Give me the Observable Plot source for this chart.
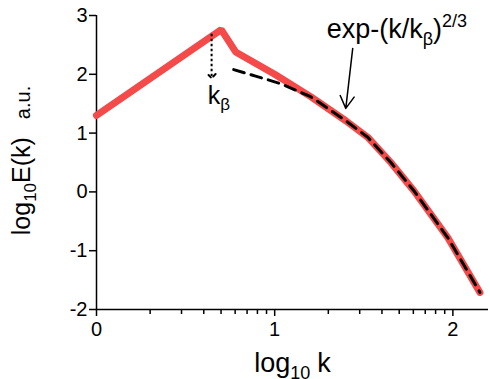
<!DOCTYPE html>
<html><head><meta charset="utf-8">
<script src="https://cdn.jsdelivr.net/npm/d3@7"></script>
<script src="https://cdn.jsdelivr.net/npm/@observablehq/plot@0.6"></script>
<style>
html,body{margin:0;padding:0;background:#fff;}
#chart svg{display:block;}
</style></head>
<body><div id="chart"></div>
<script>
// Measured spectrum (red) : log10 k vs log10 E(k)
const spectrumLogK = [0, 0.700, 0.781, 1.000, 1.202, 1.399, 1.522, 1.652, 1.781, 1.972, 2.152];
const spectrumLogE = [1.30, 2.76, 2.38, 2.00, 1.62, 1.21, 0.93, 0.50, 0.02, -0.78, -1.71];
// Stretched-exponential fit (black dashed)
const fitLogK = [0.770, 0.893, 1.034, 1.202, 1.399, 1.522, 1.652, 1.781, 1.972, 2.152];
const fitLogE = [2.08, 1.97, 1.84, 1.62, 1.21, 0.93, 0.50, 0.02, -0.78, -1.71];
// Axis ticks
const yTicks = [-2, -1, 0, 1, 2, 3];
const xMajorTicks = [0, 1, 2];
const xMinorTicks = [0, 1].flatMap(d => [2,3,4,5,6,7,8,9].map(m => d + Math.log10(m)));
// Annotations
const kbArrow = {x1: 0.646, y1: 2.69, x2: 0.646, y2: 1.97};
const fitArrow = {x1: 1.438, y1: 2.44, x2: 1.399, y2: 1.42};
const annotationText = ["kβ", "exp-(k/kβ)2/3"];
const annotationX = [0.624, 1.292];
const annotationY = [1.50, 2.61];
const xLabel = "log10 k";
const yLabel = "log10E(k)   a.u.";

const spectrum = spectrumLogK.map((k, i) => ({k, e: spectrumLogE[i]}));
const fit = fitLogK.map((k, i) => ({k, e: fitLogE[i]}));
const annotations = annotationText.map((t, i) => ({t, x: annotationX[i], y: annotationY[i]}));

const font = '"Liberation Sans", Arial, Helvetica, sans-serif';

const plot = Plot.plot({
  width: 490, height: 379,
  marginLeft: 96, marginRight: 2, marginTop: 15, marginBottom: 70,
  style: {fontFamily: font, background: "#fff", color: "#000"},
  x: {domain: [0, 2.2], axis: null},
  y: {domain: [-2, 3], axis: null},
  marks: [
    Plot.axisY({ticks: yTicks, tickSize: 7, tickPadding: 2, fontSize: 20, strokeWidth: 1.5, tickFormat: d => String(d), label: null}),
    Plot.axisX({ticks: xMajorTicks, tickSize: 7, tickPadding: 5, fontSize: 20, strokeWidth: 1.5, tickFormat: d => String(d), label: null}),
    Plot.axisX({ticks: xMinorTicks, tickSize: 5, strokeWidth: 1.5, tickFormat: () => "", label: null}),
    Plot.ruleX([0], {y1: -2, y2: 3, stroke: "#000", strokeWidth: 1.5}),
    Plot.ruleY([-2], {x1: 0, x2: 2.2, stroke: "#000", strokeWidth: 1.5}),
    Plot.line(spectrum, {x: "k", y: "e", stroke: "#f54a4a", strokeWidth: 7, strokeLinecap: "round", strokeLinejoin: "miter"}),
    Plot.line(fit, {x: "k", y: "e", stroke: "#000", strokeWidth: 3, strokeDasharray: "11,7"}),
    Plot.link([kbArrow], {x1: "x1", y1: "y1", x2: "x2", y2: "y2", stroke: "#000", strokeWidth: 2, strokeDasharray: "2.5,2.5", markerEnd: "arrow"}),
    Plot.arrow([fitArrow], {x1: "x1", y1: "y1", x2: "x2", y2: "y2", stroke: "#000", strokeWidth: 1.5, headLength: 14}),
    Plot.text(annotations, {x: "x", y: "y", text: "t", textAnchor: "start", lineAnchor: "bottom", fontSize: 25, fill: "#000"}),
    Plot.text([xLabel], {text: d => d, frameAnchor: "bottom", textAnchor: "middle", lineAnchor: "bottom", dy: 62, fontSize: 27, fill: "#000"}),
    Plot.text([yLabel], {text: d => d, frameAnchor: "left", textAnchor: "middle", rotate: -90, lineAnchor: "bottom", dx: -67, dy: -2, fontSize: 25, fill: "#000"})
  ]
});

const rich = {
  "kβ": [{t: "k"}, {t: "β", size: 17, dy: 6}],
  "exp-(k/kβ)2/3": [{t: "exp-(k/k", size: 27}, {t: "β", size: 18, dy: 7}, {t: ")", size: 27, dy: -7}, {t: "2/3", size: 18, dy: -11}],
  "log10 k": [{t: "log"}, {t: "10", size: 18, dy: 7}, {t: "k", dy: -7, dx: 7}],
  "log10E(k)   a.u.": [{t: "log"}, {t: "10", size: 17, dy: 6}, {t: "E(k)", dy: -6}, {t: "a.u.", size: 20, dx: 18}]
};
d3.select(plot).selectAll("text").each(function() {
  const parts = rich[this.textContent];
  if (!parts || this.childNodes.length !== 1 || this.firstChild.nodeType !== 3) return;
  const t = d3.select(this);
  t.text(null);
  for (const p of parts) {
    const s = t.append("tspan").text(p.t);
    if (p.size) s.attr("font-size", p.size);
    if (p.dy) s.attr("dy", p.dy);
    if (p.dx) s.attr("dx", p.dx);
  }
});
document.getElementById("chart").append(plot);
</script>
</body></html>
